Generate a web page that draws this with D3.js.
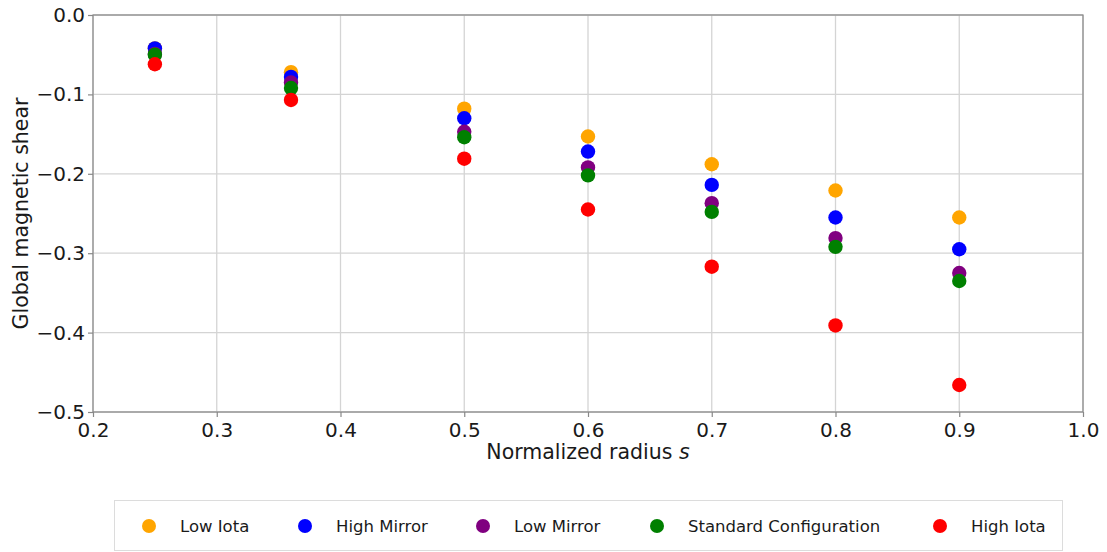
<!DOCTYPE html>
<html>
<head>
<meta charset="utf-8">
<script src="https://cdn.jsdelivr.net/npm/d3@7"></script>
<style>
  body { margin: 0; background: #fff; }
  text { font-family: "DejaVu Sans", sans-serif; fill: #1a1a1a; }
</style>
</head>
<body>
<div id="chart"></div>
<script>
// radial positions
var radius = [0.25, 0.36, 0.5, 0.6, 0.7, 0.8, 0.9];

// shear values per configuration
var lowIota      = [-0.042, -0.072, -0.118, -0.153, -0.188, -0.221, -0.255];
var highMirror   = [-0.042, -0.078, -0.130, -0.172, -0.214, -0.255, -0.295];
var lowMirror    = [-0.049, -0.085, -0.147, -0.192, -0.237, -0.281, -0.325];
var standardConf = [-0.050, -0.092, -0.154, -0.202, -0.248, -0.292, -0.335];
var highIota     = [-0.062, -0.107, -0.181, -0.245, -0.317, -0.391, -0.466];

var seriesNames  = ["Low Iota", "High Mirror", "Low Mirror", "Standard Configuration", "High Iota"];
var seriesColors = ["orange", "blue", "purple", "green", "red"];
var seriesValues = [lowIota, highMirror, lowMirror, standardConf, highIota];

var xTicks = [0.2, 0.3, 0.4, 0.5, 0.6, 0.7, 0.8, 0.9, 1.0];
var yTicks = [0.0, -0.1, -0.2, -0.3, -0.4, -0.5];

var W = 1107, H = 552;
var margin = {top: 15, left: 93, right: 24, bottom: 140};
var width = W - margin.left - margin.right,
    height = H - margin.top - margin.bottom;

var svg = d3.select("#chart").append("svg")
    .attr("width", W).attr("height", H);
var g = svg.append("g")
    .attr("transform", "translate(" + margin.left + "," + margin.top + ")");

var x = d3.scaleLinear().domain([0.2, 1.0]).range([0, width]);
var y = d3.scaleLinear().domain([-0.5, 0.0]).range([height, 0]);

// grid
g.append("g").selectAll("line").data(xTicks).enter().append("line")
    .attr("x1", function(d) { return x(d); }).attr("x2", function(d) { return x(d); })
    .attr("y1", 0).attr("y2", height)
    .attr("stroke", "#d4d4d4").attr("stroke-width", 1.3);
g.append("g").selectAll("line").data(yTicks).enter().append("line")
    .attr("y1", function(d) { return y(d); }).attr("y2", function(d) { return y(d); })
    .attr("x1", 0).attr("x2", width)
    .attr("stroke", "#d4d4d4").attr("stroke-width", 1.3);

// axes
var fmt = function(d) { return d3.format(".1f")(d).replace("-", "\u2212"); };
var xAxis = g.append("g").attr("transform", "translate(0," + height + ")")
    .call(d3.axisBottom(x).tickValues(xTicks).tickFormat(fmt).tickSize(5).tickPadding(3));
var yAxis = g.append("g")
    .call(d3.axisLeft(y).tickValues(yTicks).tickFormat(fmt).tickSize(5).tickPadding(3));
[xAxis, yAxis].forEach(function(a) {
  a.select(".domain").remove();
  a.selectAll("line").attr("stroke", "#888").attr("stroke-width", 1.2);
  a.selectAll("text").attr("font-size", 20).attr("fill", "#1a1a1a")
    .attr("font-family", "DejaVu Sans, sans-serif");
});
xAxis.selectAll("text").attr("dy", "0.85em");

// frame
g.append("rect").attr("x", 0).attr("y", 0).attr("width", width).attr("height", height)
    .attr("fill", "none").attr("stroke", "#888").attr("stroke-width", 1.2);

// points
seriesValues.forEach(function(vals, i) {
  g.append("g").selectAll("circle").data(vals).enter().append("circle")
      .attr("cx", function(d, j) { return x(radius[j]); })
      .attr("cy", function(d) { return y(d); })
      .attr("r", 7.2)
      .attr("fill", seriesColors[i]);
});

// axis labels
var xl = svg.append("text")
    .attr("x", margin.left + width / 2).attr("y", 459)
    .attr("text-anchor", "middle").attr("font-size", 20.5);
xl.append("tspan").text("Normalized radius ");
xl.append("tspan").attr("font-style", "italic").text("s");

svg.append("text")
    .attr("transform", "translate(28," + (margin.top + height / 2) + ") rotate(-90)")
    .attr("text-anchor", "middle").attr("font-size", 20.5)
    .text("Global magnetic shear");

// legend
var legX = [149, 305, 483, 657, 940];
var leg = svg.append("g");
leg.append("rect").attr("x", 114.5).attr("y", 500.5).attr("width", 948).attr("height", 50)
    .attr("fill", "#fff").attr("stroke", "#dcdcdc").attr("stroke-width", 1);
seriesNames.forEach(function(name, i) {
  leg.append("circle").attr("cx", legX[i]).attr("cy", 526).attr("r", 7)
      .attr("fill", seriesColors[i]);
  leg.append("text").attr("x", legX[i] + 31).attr("y", 532)
      .attr("font-size", 16.5).text(name);
});
</script>
</body>
</html>
